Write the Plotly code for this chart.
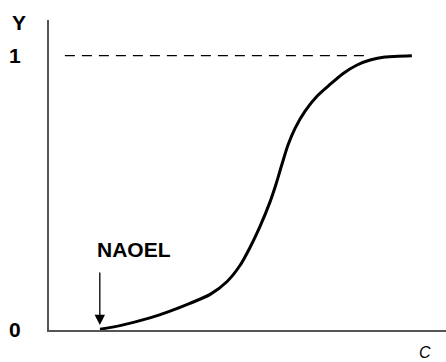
import plotly.graph_objects as go

# Dose-response curve values
c_values = [1.285, 1.79, 2.54, 3.05, 3.55, 4.06, 4.48, 4.81, 5.06, 5.31, 5.57, 5.72, 5.87, 6.02, 6.20, 6.45, 6.75, 7.08, 7.41, 7.76, 8.09, 8.46, 9.14]
y_values = [0.003, 0.016, 0.044, 0.069, 0.097, 0.130, 0.176, 0.235, 0.300, 0.376, 0.468, 0.532, 0.605, 0.674, 0.736, 0.798, 0.852, 0.895, 0.935, 0.966, 0.984, 0.995, 1.0]

# Dashed reference line at Y = 1
ref_c = [0.40, 8.09]
ref_y = [1.0, 1.0]

# NAOEL point
naoel_c = 1.28
naoel_label = "NAOEL"

y_tickvals = [0, 1]
y_ticktext = ["<b>0</b>", "<b>1</b>"]

FONT = "Liberation Sans, Arial, sans-serif"

fig = go.Figure()
fig.add_trace(go.Scatter(x=ref_c, y=ref_y, mode="lines",
                         line=dict(color="black", width=1.3, dash="10px,7px"),
                         hoverinfo="skip"))
fig.add_trace(go.Scatter(x=c_values, y=y_values, mode="lines",
                         line=dict(color="black", width=3, shape="spline", smoothing=0.7),
                         hoverinfo="skip"))

fig.add_annotation(x=naoel_c, y=0.018, xref="x", yref="y", text="",
                   showarrow=True, ax=0, ay=-54, arrowhead=2, arrowsize=1.6,
                   arrowwidth=1.3, arrowcolor="black")
fig.add_annotation(x=2.14, y=0.292, xref="x", yref="y", text="<b>%s</b>" % naoel_label,
                   showarrow=False, xanchor="center", yanchor="middle",
                   font=dict(family=FONT, size=21, color="black"))
fig.add_annotation(x=-0.0756, y=0.9935, xref="paper", yref="paper", text="<b>Y</b>",
                   showarrow=False, xanchor="center", yanchor="middle",
                   font=dict(family=FONT, size=21, color="black"))
fig.add_annotation(x=0.947, y=-0.071, xref="paper", yref="paper", text="<i>C</i>",
                   showarrow=False, xanchor="center", yanchor="middle",
                   font=dict(family=FONT, size=16, color="black"))

fig.update_layout(
    width=446, height=362,
    margin=dict(l=49, r=0, t=20, b=32),
    paper_bgcolor="white", plot_bgcolor="white",
    showlegend=False,
    xaxis=dict(range=[0, 10], showline=True, linecolor="#555555", linewidth=2,
               showgrid=False, zeroline=False, showticklabels=False, ticks=""),
    yaxis=dict(range=[0, 1.13], showline=True, linecolor="#555555", linewidth=2,
               showgrid=False, zeroline=False, ticks="",
               tickvals=y_tickvals, ticktext=y_ticktext, ticklabelstandoff=22,
               tickfont=dict(family=FONT, size=21, color="black")),
)

fig.write_html("out.html", config={"displayModeBar": False},
               post_script="document.body.style.margin='0px';")
